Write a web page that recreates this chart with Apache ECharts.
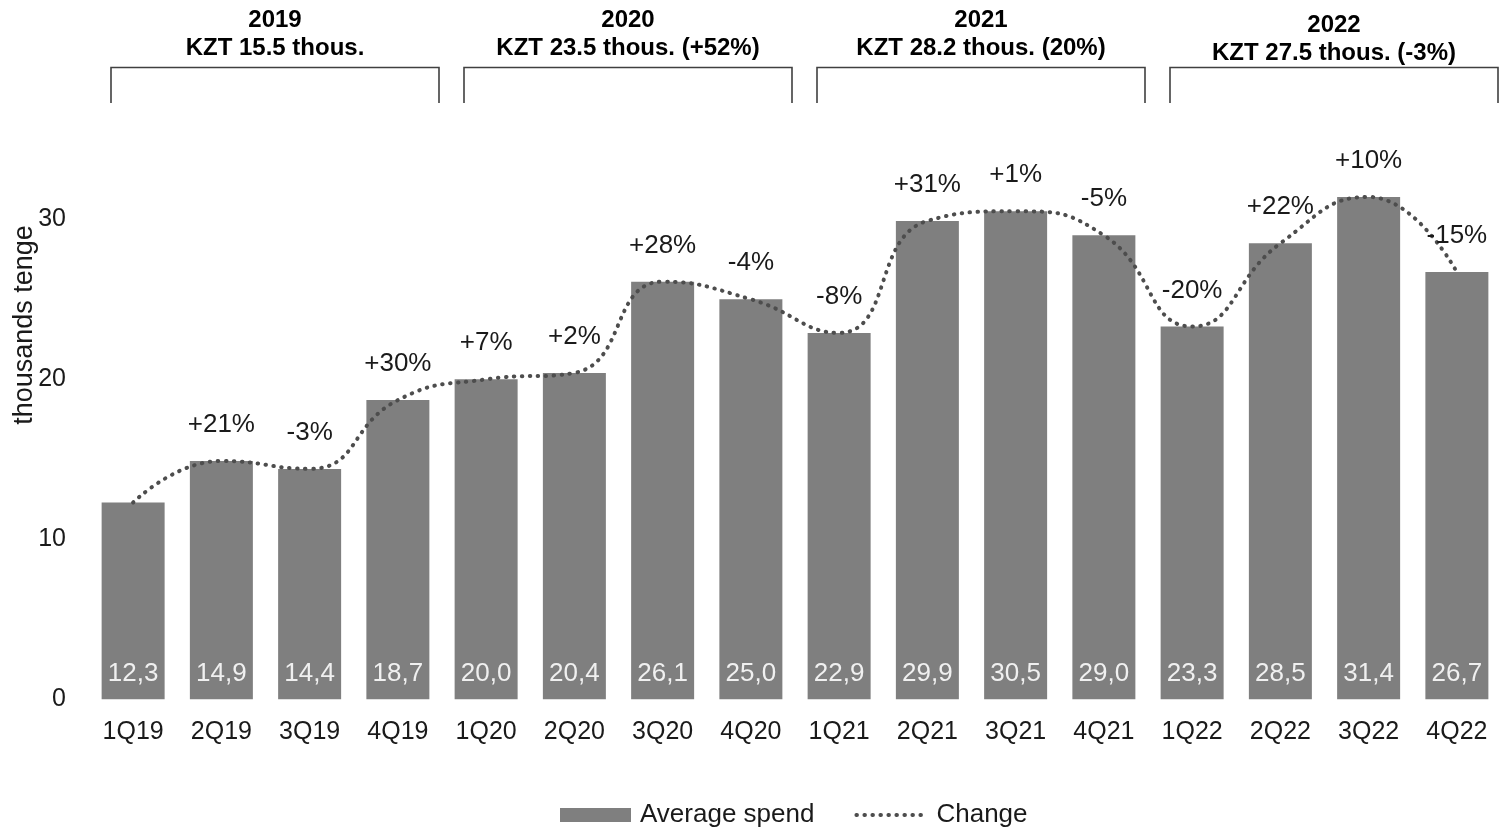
<!DOCTYPE html>
<html>
<head>
<meta charset="utf-8">
<script src="https://cdn.jsdelivr.net/npm/echarts@6/dist/echarts.min.js"></script>
<style>
html,body{margin:0;padding:0;background:#fff;}
#chart{width:1501px;height:827px;}
</style>
</head>
<body>
<div id="chart"></div>
<script>
const categories = ['1Q19','2Q19','3Q19','4Q19','1Q20','2Q20','3Q20','4Q20','1Q21','2Q21','3Q21','4Q21','1Q22','2Q22','3Q22','4Q22'];
const avgSpend = [12.3,14.9,14.4,18.7,20.0,20.4,26.1,25.0,22.9,29.9,30.5,29.0,23.3,28.5,31.4,26.7];
const changeLabels = ['','+21%','-3%','+30%','+7%','+2%','+28%','-4%','-8%','+31%','+1%','-5%','-20%','+22%','+10%','-15%'];
const yearTitles = ['2019','2020','2021','2022'];
const yearSubtitles = ['KZT 15.5 thous.','KZT 23.5 thous. (+52%)','KZT 28.2 thous. (20%)','KZT 27.5 thous. (-3%)'];
const yAxisTicks = [0,10,20,30];

const FONT = '"Liberation Sans", Arial, sans-serif';
const chart = echarts.init(document.getElementById('chart'));

const dotStyle = { color: '#4d4d4d', width: 4, type: [0.5, 7.5], cap: 'round' };

const option = {
  animation: false,
  backgroundColor: '#ffffff',
  textStyle: { fontFamily: FONT },
  grid: { left: 89, top: 139.3, width: 1420, height: 560, containLabel: false },
  legend: {
    left: 555, top: 797,
    itemWidth: 71, itemHeight: 14, itemGap: 40,
    textStyle: { fontSize: 26, color: '#1a1a1a', fontFamily: FONT, padding: [0,0,0,4] },
    data: [
      { name: 'Average spend', icon: 'rect' },
      { name: 'Change', itemStyle: { opacity: 0 }, lineStyle: dotStyle }
    ]
  },
  xAxis: {
    type: 'category',
    data: categories,
    axisLine: { show: false },
    axisTick: { show: false },
    axisLabel: { fontSize: 25, color: '#1a1a1a', margin: 20, fontFamily: FONT }
  },
  yAxis: {
    type: 'value',
    min: 0, max: 35, interval: 10,
    splitLine: { show: false },
    axisLine: { show: false },
    axisTick: { show: false },
    axisLabel: {
      fontSize: 25, color: '#1a1a1a', margin: 23, fontFamily: FONT,
      formatter: v => yAxisTicks.indexOf(v) >= 0 ? String(v) : ''
    }
  },
  series: [
    {
      name: 'Average spend',
      type: 'bar',
      data: avgSpend,
      barWidth: 63,
      itemStyle: { color: '#7f7f7f' },
      label: {
        show: true,
        position: 'insideBottom',
        distance: 12,
        fontSize: 26,
        color: '#f0f0f0',
        fontFamily: FONT,
        formatter: p => p.value.toFixed(1).replace('.', ',')
      },
      z: 2
    },
    {
      name: 'Change',
      type: 'line',
      data: avgSpend,
      smooth: 0.5,
      symbol: 'circle',
      symbolSize: 0,
      showSymbol: true,
      lineStyle: dotStyle,
      itemStyle: { color: '#4d4d4d' },
      label: {
        show: true,
        position: 'top',
        distance: 23,
        fontSize: 26,
        color: '#1a1a1a',
        fontFamily: FONT,
        formatter: p => changeLabels[p.dataIndex]
      },
      z: 3
    }
  ]
};
chart.setOption(option);

// Year brackets computed from the category axis scale
const c0 = chart.convertToPixel({ xAxisIndex: 0 }, 0);
const c1 = chart.convertToPixel({ xAxisIndex: 0 }, 1);
const bw = c1 - c0;
const graphics = [];
yearTitles.forEach((t, i) => {
  const first = chart.convertToPixel({ xAxisIndex: 0 }, i * 4);
  const last = chart.convertToPixel({ xAxisIndex: 0 }, i * 4 + 3);
  const x1 = first - bw / 2 + 22;
  const x2 = last + bw / 2 - 3;
  const cx = (x1 + x2) / 2;
  const dy = i === 3 ? 5 : 0;
  graphics.push({
    type: 'polyline',
    shape: { points: [[x1, 103], [x1, 67.5], [x2, 67.5], [x2, 103]] },
    style: { stroke: '#404040', lineWidth: 1.6, fill: null }
  });
  graphics.push({
    type: 'text', x: cx, y: 20 + dy,
    style: { text: t, font: 'bold 24px ' + FONT, fill: '#000', align: 'center', verticalAlign: 'middle' }
  });
  graphics.push({
    type: 'text', x: cx, y: 48 + dy,
    style: { text: yearSubtitles[i], font: 'bold 24px ' + FONT, fill: '#000', align: 'center', verticalAlign: 'middle' }
  });
});
graphics.push({
  type: 'text', x: 25, y: 325, rotation: Math.PI / 2,
  style: { text: 'thousands tenge', font: '27px ' + FONT, fill: '#1a1a1a', align: 'center', verticalAlign: 'middle' }
});
chart.setOption({ graphic: graphics });
</script>
</body>
</html>
